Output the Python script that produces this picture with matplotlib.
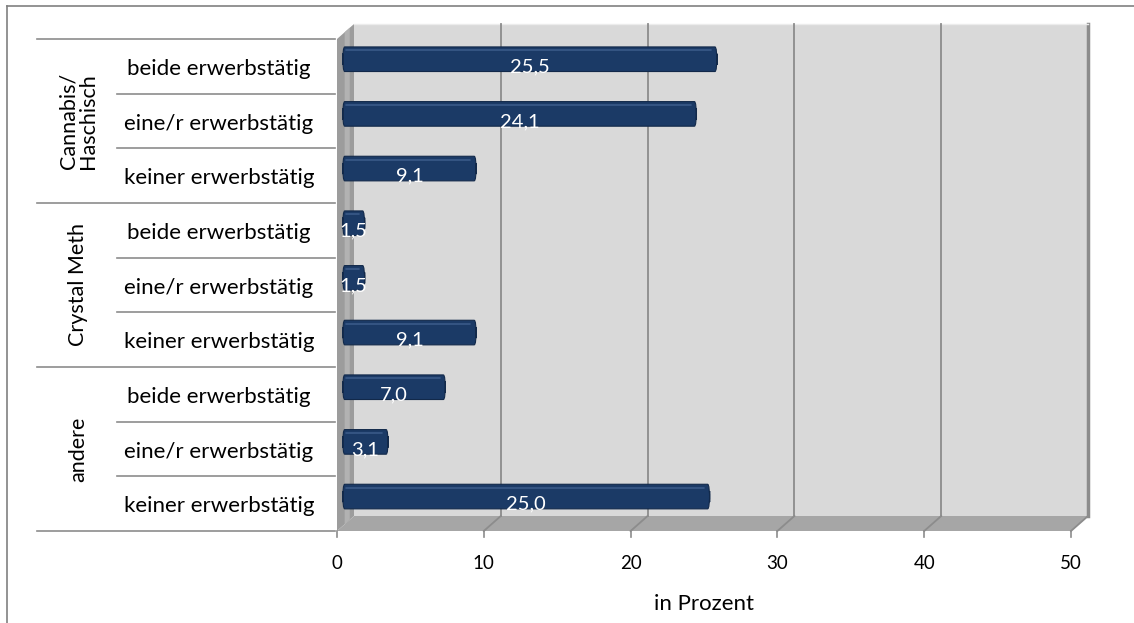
import matplotlib
matplotlib.use("Agg")
from matplotlib import pyplot as plt
from matplotlib.patches import Polygon, FancyBboxPatch
from matplotlib.lines import Line2D

plt.rcParams['font.family'] = ['Lato', 'DejaVu Sans']

groups = ["Cannabis/\nHaschisch", "Crystal Meth", "andere"]
rows = ["beide erwerbstätig", "eine/r erwerbstätig", "keiner erwerbstätig"]
values = [25.5, 24.1, 9.1, 1.5, 1.5, 9.1, 7.0, 3.1, 25.0]
labels = ["25,5", "24,1", "9,1", "1,5", "1,5", "9,1", "7,0", "3,1", "25,0"]
xticks = [0, 10, 20, 30, 40, 50]

W, H = 1134, 623
fig = plt.figure(figsize=(W / 100, H / 100), dpi=100)

# front plane: x 0..50 -> px 337..1071, rows 0..9 -> px 531..39
ax = fig.add_axes([337 / W, 1 - 531 / H, (1071 - 337) / W, (531 - 39) / H])
ax.set_xlim(0, 50)
ax.set_ylim(0, 9)
ax.axis("off")

n = len(values)
dx = 17 / 14.68
dy = 15 / 54.67

# walls
ax.add_patch(Polygon([(dx, dy), (50 + dx, dy), (50 + dx, n + dy), (dx, n + dy)],
                     closed=True, fc="#d9d9d9", ec="none", zorder=1, clip_on=False))
ax.add_patch(Polygon([(0, 0), (dx, dy), (dx, n + dy), (0, n)],
                     closed=True, fc="#9c9c9c", ec="none", zorder=1, clip_on=False))
ax.add_patch(Polygon([(dx * 0.45, dy * 0.45), (dx * 0.75, dy * 0.75), (dx * 0.75, n + dy * 0.75), (dx * 0.45, n + dy * 0.45)],
                     closed=True, fc="#b2b2b2", ec="none", zorder=1, clip_on=False))
ax.add_patch(Polygon([(0, 0), (50, 0), (50 + dx, dy), (dx, dy)],
                     closed=True, fc="#a6a6a6", ec="none", zorder=1, clip_on=False))
ax.plot([50 + dx, 50 + dx], [dy, n + dy], color="#8c8c8c", lw=2.5, zorder=2, clip_on=False)
ax.plot([dx, 50 + dx], [n + dy, n + dy], color="#ececec", lw=1, zorder=2, clip_on=False)

# grid lines on back wall and floor
for t in xticks[1:-1]:
    ax.plot([t + dx, t + dx], [dy, n + dy], color="#8c8c8c", lw=1.3, zorder=2, clip_on=False)
for t in xticks[1:]:
    ax.plot([t, t + dx], [0, dy], color="#8c8c8c", lw=1.3, zorder=2, clip_on=False)

# bars (first row at top)
off_x = dx / 3
bh = 0.45
for i, v in enumerate(values):
    yc = n - 1 - i + 0.5 + 0.13
    bar = FancyBboxPatch((off_x, yc - bh / 2), v, bh,
                         boxstyle="round,pad=0,rounding_size=0.14",
                         mutation_aspect=54.67 / 14.68 / 1.6,
                         fc="#1b3a66", ec="#12294a", lw=0.8, zorder=3)
    ax.add_patch(bar)
    ax.plot([off_x + 0.2, off_x + v - 0.4], [yc + bh / 2 - 0.06] * 2,
            color="#3a5a88", lw=1.2, zorder=4, solid_capstyle="round")
    ax.text(off_x + v / 2, yc - 0.14, labels[i], color="white", fontsize=14.5,
            ha="center", va="center", zorder=5)

# x axis ticks and labels
for t in xticks:
    ax.plot([t, t], [0, -0.11], color="#8c8c8c", lw=1.2, clip_on=False)
    ax.text(t, -0.6, str(t), ha="center", va="center", fontsize=13.5, color="black")
ax.text(25, -1.33, "in Prozent", ha="center", va="center", fontsize=16)

# category table on the left
x_grp = -(337 - 37) / 14.68
x_row = -(337 - 117) / 14.68
x_end = -2 / 14.68
for g in range(len(groups) + 1):
    ax.add_line(Line2D([x_grp, x_end], [g * 3, g * 3], color="#8c8c8c", lw=1.2, clip_on=False))
for i in range(n):
    if i % 3:
        ax.add_line(Line2D([x_row, x_end], [i, i], color="#8c8c8c", lw=1.2, clip_on=False))
for i in range(n):
    ax.text(-(337 - 219) / 14.68, n - 1 - i + 0.45, rows[i % 3], ha="center", va="center",
            fontsize=16, clip_on=False)
for g, name in enumerate(groups):
    ax.text(-(337 - 78) / 14.68, n - g * 3 - 1.5, name, ha="center", va="center",
            rotation=90, fontsize=15.5, linespacing=1.0, clip_on=False)

# chart frame (top and left)
fig.add_artist(Line2D([7 / W, 1], [1 - 6 / H, 1 - 6 / H], color="#808080", lw=1.2))
fig.add_artist(Line2D([7 / W, 7 / W], [0, 1 - 6 / H], color="#808080", lw=1.2))

fig.savefig("out.png", dpi=100)
